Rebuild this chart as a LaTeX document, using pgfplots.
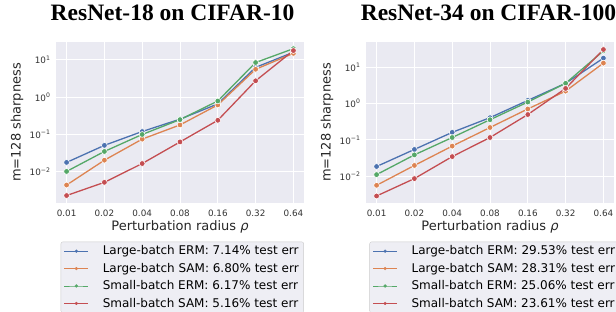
\documentclass[border=0pt]{standalone}
\usepackage{pgfplots}
\pgfplotsset{compat=1.18}
\usepackage{fontspec}
\setmainfont{DejaVu Sans}
\newfontfamily\titlefont{Liberation Serif}
\definecolor{sbblue}{HTML}{4C72B0}
\definecolor{sborange}{HTML}{DD8452}
\definecolor{sbgreen}{HTML}{55A868}
\definecolor{sbred}{HTML}{C44E52}
\definecolor{sbbg}{HTML}{EAEAF2}
\definecolor{legbg}{HTML}{EEEEF4}
\pgfplotsset{
  ser/.style={color=#1, line width=1.3pt, mark=*, mark size=2.9pt,
    mark options={fill=#1, draw=white, line width=0.6pt}},
  leg/.style={color=#1, line width=0.9pt, mark=*, mark size=1.5pt,
    mark options={fill=#1, draw=#1, line width=0.2pt}},
  sbstyle/.style={
    scale only axis, width=248pt, height=161pt,
    axis background/.style={fill=sbbg},
    axis line style={draw=none},
    major tick style={draw=none},
    minor tick style={draw=none},
    grid=major, major grid style={white, line width=1pt},
    xmin=-0.28, xmax=6.28,
    xtick={0,1,2,3,4,5,6},
    xticklabels={0.01,0.02,0.04,0.08,0.16,0.32,0.64},
    ytick={0.01,0.1,1,10},
    yticklabels={10\textsuperscript{−2},10\textsuperscript{−1},10\textsuperscript{0},10\textsuperscript{1}},
    tick label style={font=\fontsize{8.8}{10}\selectfont, text=black!80},
    xticklabel style={yshift=-3pt},
    yticklabel style={xshift=-2pt},
    xlabel={Perturbation radius \textit{ρ}},
    ylabel={m=128 sharpness},
    label style={font=\fontsize{13}{15}\selectfont, text=black!85},
    xlabel style={at={(axis description cs:0.5,0)}, anchor=base, yshift=-27pt},
    ylabel style={at={(axis description cs:-0.157,0.5)}, anchor=center},
    title style={font=\titlefont\bfseries\fontsize{23.5}{26}\selectfont, anchor=base, yshift=15.3pt},
    legend cell align=left,
    legend style={anchor=north west, draw=black!20, fill=legbg, rounded corners=2pt,
      font=\fontsize{12}{14}\selectfont, row sep=2.8pt,
      inner xsep=3pt, inner ysep=2pt,
      /tikz/every odd column/.append style={column sep=7pt}},
    legend image code/.code={
      \draw[mark repeat=2, mark phase=2]
        plot coordinates {(0pt,0pt) (12pt,0pt) (24pt,0pt)};
      \path (29pt,0pt);},
  }
}
\begin{document}
\begin{tikzpicture}
\path[use as bounding box] (0pt,0pt) rectangle (616pt,-311pt);
\begin{axis}[ymode=log, sbstyle, at={(56pt,-203pt)}, anchor=south west,
  ymin=0.00145, ymax=30.2,
  title={ResNet-18 on CIFAR-10}, title style={at={(0.47,1)}},
  legend style={at={(0.019,-0.240)}}]
\addlegendimage{leg=sbblue}
\addlegendentry{Large-batch ERM: 7.14\% test err}
\addlegendimage{leg=sborange}
\addlegendentry{Large-batch SAM: 6.80\% test err}
\addlegendimage{leg=sbgreen}
\addlegendentry{Small-batch ERM: 6.17\% test err}
\addlegendimage{leg=sbred}
\addlegendentry{Small-batch SAM: 5.16\% test err}
\addplot[ser=sbblue, forget plot] coordinates {(0,0.0178) (1,0.051) (2,0.12) (3,0.257) (4,0.66) (5,6.3) (6,16)};
\addplot[ser=sborange, forget plot] coordinates {(0,0.0044) (1,0.0204) (2,0.075) (3,0.18) (4,0.62) (5,5.6) (6,15)};
\addplot[ser=sbgreen, forget plot] coordinates {(0,0.0102) (1,0.035) (2,0.1) (3,0.25) (4,0.79) (5,8.5) (6,20)};
\addplot[ser=sbred, forget plot] coordinates {(0,0.0023) (1,0.0052) (2,0.0166) (3,0.063) (4,0.24) (5,2.75) (6,17.8)};
\end{axis}
\begin{axis}[ymode=log, sbstyle, at={(366pt,-203pt)}, anchor=south west,
  ymin=0.00186, ymax=49,
  title={ResNet-34 on CIFAR-100}, title style={at={(0.494,1)}},
  legend style={at={(0.014,-0.240)}}]
\addlegendimage{leg=sbblue}
\addlegendentry{Large-batch ERM: 29.53\% test err}
\addlegendimage{leg=sborange}
\addlegendentry{Large-batch SAM: 28.31\% test err}
\addlegendimage{leg=sbgreen}
\addlegendentry{Small-batch ERM: 25.06\% test err}
\addlegendimage{leg=sbred}
\addlegendentry{Small-batch SAM: 23.61\% test err}
\addplot[ser=sbblue, forget plot] coordinates {(0,0.0187) (1,0.055) (2,0.162) (3,0.41) (4,1.22) (5,3.6) (6,17.7)};
\addplot[ser=sborange, forget plot] coordinates {(0,0.0057) (1,0.02) (2,0.068) (3,0.22) (4,0.71) (5,2.2) (6,12.9)};
\addplot[ser=sbgreen, forget plot] coordinates {(0,0.0112) (1,0.039) (2,0.117) (3,0.36) (4,1.1) (5,3.6) (6,28)};
\addplot[ser=sbred, forget plot] coordinates {(0,0.0029) (1,0.0087) (2,0.035) (3,0.117) (4,0.5) (5,2.6) (6,30.5)};
\end{axis}
\end{tikzpicture}
\end{document}
